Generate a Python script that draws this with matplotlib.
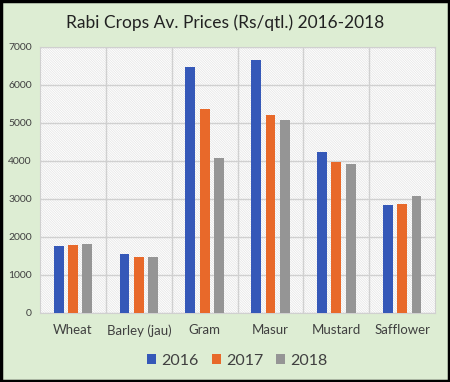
import numpy as np
import matplotlib.pyplot as plt
from matplotlib.patches import Rectangle

crops = ['Wheat', 'Barley (jau)', 'Gram', 'Masur', 'Mustard', 'Safflower']
years = ['2016', '2017', '2018']
price_2016 = [1760, 1560, 6470, 6650, 4230, 2840]
price_2017 = [1780, 1460, 5370, 5200, 3980, 2860]
price_2018 = [1820, 1480, 4070, 5080, 3930, 3070]
colors = ['#3558B8', '#E8692A', '#959595']

plt.rcParams['font.family'] = ['Lato', 'DejaVu Sans']
plt.rcParams['hatch.linewidth'] = 0.5
plt.rcParams['hatch.color'] = '#E4E4E4'

fig = plt.figure(figsize=(4.5, 3.82), dpi=100, facecolor='#DDEDD3')
ax = fig.add_axes([0.089, 0.181, 0.878, 0.696])

# finely hatched plot area
ax.patch.set_facecolor('white')
ax.patch.set_hatch('\\' * 14)
ax.patch.set_edgecolor('#E4E4E4')

x = np.arange(len(crops))
width = 0.15
step = 0.217
for i, (vals, yr) in enumerate(zip([price_2016, price_2017, price_2018], years)):
    ax.bar(x + (i - 1) * step, vals, width, color=colors[i], label=yr, zorder=3)

ax.set_xlim(-0.5, len(crops) - 0.5)
ax.set_ylim(0, 7000)
ax.set_yticks(np.arange(0, 7001, 1000))
ax.set_xticks(x)
ax.set_xticklabels(crops, fontsize=9.5, color='#404040')
ax.tick_params(axis='y', labelsize=7.5, colors='#404040', length=0, pad=6)
ax.tick_params(axis='x', length=0, pad=8)

ax.grid(axis='y', color='#D0D0D0', linewidth=1, zorder=1)
for b in np.arange(0.5, len(crops) - 0.5):
    ax.axvline(b, color='#D0D0D0', linewidth=1, zorder=1)
for s in ax.spines.values():
    s.set_color('#D0D0D0')

fig.text(0.5, 0.94, 'Rabi Crops Av. Prices (Rs/qtl.) 2016-2018',
         ha='center', va='center', fontsize=12.5, color='#222222')
ax.legend(loc='upper center', bbox_to_anchor=(0.5, -0.1), ncol=3,
          frameon=False, fontsize=11.5, handlelength=0.55, handleheight=0.55,
          handletextpad=0.35, columnspacing=0.8, labelcolor='#404040')

# black frame round the whole chart
fig.patches.append(Rectangle((0.003, 0.003), 0.994, 0.994, transform=fig.transFigure,
                             fill=False, edgecolor='black', linewidth=2.5))

plt.savefig('out.png', dpi=100, facecolor=fig.get_facecolor())
